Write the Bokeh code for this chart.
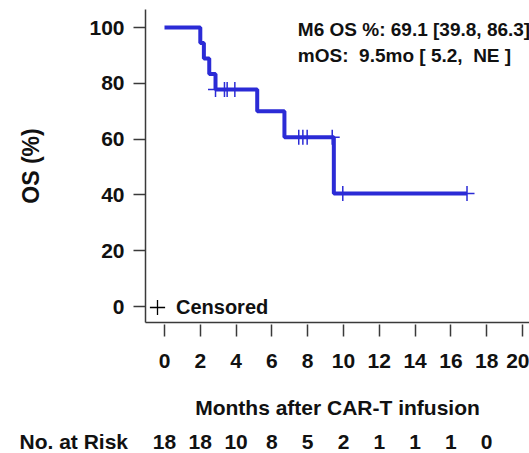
from bokeh.plotting import figure
from bokeh.models import (Range1d, FixedTicker, Label, Legend, LegendItem)
from bokeh.core.properties import value
from bokeh.embed import file_html
from bokeh.resources import INLINE

# ---- data ----
months = [0, 2.0, 2.2, 2.5, 2.85, 5.18, 6.7, 9.46, 16.9]
os_pct = [100, 94.4, 88.9, 83.3, 77.8, 70.0, 60.7, 40.5, 40.5]
cens_months = [2.85, 3.35, 3.5, 3.93, 7.5, 7.73, 7.97, 9.37, 9.96, 16.9]
cens_pct = [77.8, 77.8, 77.8, 77.8, 60.7, 60.7, 60.7, 60.7, 40.5, 40.5]
x_ticks = [0, 2, 4, 6, 8, 10, 12, 14, 16, 18, 20]
y_ticks = [0, 20, 40, 60, 80, 100]
risk_months = [0, 2, 4, 6, 8, 10, 12, 14, 16, 18]
risk_counts = [18, 18, 10, 8, 5, 2, 1, 1, 1, 0]
m6_text = "M6 OS %: 69.1 [39.8, 86.3]"
mos_text = "mOS:\u00a0 9.5mo [ 5.2,\u00a0 NE ]"

FONT = "Liberation Sans"
BLUE = "#2b2bd6"
AXC = "#3a3a3a"
TXT = "#111111"

# ---- layout constants (pixels) ----
W, H = 529, 453
PX_X, X_ORIGIN = 17.9, 164      # px per month, px of month 0
PX_Y, Y_ORIGIN = 2.79, 306      # px per %, px of 0 %
AX_LEFT_PX, AX_TOP_PX, AX_BOTTOM_PX = 145, 9, 322

def xdata(px):
    return (px - X_ORIGIN) / PX_X

def ydata(px):
    return (Y_ORIGIN - px) / PX_Y

p = figure(width=W, height=H, output_backend="svg", toolbar_location=None,
           x_range=Range1d(xdata(0), xdata(W)), y_range=Range1d(ydata(H), ydata(0)),
           min_border_left=0, min_border_right=0, min_border_top=0, min_border_bottom=0)
p.grid.visible = False
p.outline_line_color = None

p.step(months, os_pct, mode="after", line_width=4, line_color=BLUE)
p.scatter(cens_months, cens_pct, marker="cross", size=15, line_color=BLUE, line_width=1.5)

legend_marker = p.scatter(x=[float("nan")], y=[float("nan")], marker="cross",
                          line_color="black", line_width=1.3)
GLY = 38
leg = Legend(items=[LegendItem(label="Censored", renderers=[legend_marker])],
             location=(157 - GLY // 2, H - 307 - GLY // 2), glyph_width=GLY, glyph_height=GLY,
             padding=0, margin=0, border_line_color=None, background_fill_alpha=0,
             label_text_font=FONT, label_text_font_size="20px",
             label_text_font_style="bold", label_text_color=TXT, label_standoff=0)
p.add_layout(leg, "center")

# y axis, drawn at the plot-area's left edge
ya = p.yaxis[0]
ya.fixed_location = xdata(AX_LEFT_PX)
ya.bounds = (ydata(AX_BOTTOM_PX), ydata(AX_TOP_PX))
ya.ticker = FixedTicker(ticks=y_ticks)
ya.axis_label = "OS (%)"
ya.axis_label_text_font = FONT
ya.axis_label_text_font_size = "23px"
ya.axis_label_text_font_style = "bold"
ya.axis_label_text_color = TXT
ya.axis_label_standoff = 42
ya.major_label_text_font = FONT
ya.major_label_text_font_size = "21px"
ya.major_label_text_font_style = "bold"
ya.major_label_text_color = TXT
ya.major_label_standoff = 9
ya.major_tick_out = 12
ya.major_tick_in = 0
ya.minor_tick_line_color = None
ya.axis_line_color = AXC
ya.axis_line_width = 1.5
ya.major_tick_line_color = AXC
ya.major_tick_line_width = 1.5

# x axis, drawn at the plot-area's bottom edge
xa = p.xaxis[0]
xa.fixed_location = ydata(AX_BOTTOM_PX)
xa.bounds = (xdata(AX_LEFT_PX), xdata(W))
xa.ticker = FixedTicker(ticks=x_ticks)
xa.axis_label = "Months after CAR-T infusion"
xa.axis_label_text_font = FONT
xa.axis_label_text_font_size = "21px"
xa.axis_label_text_font_style = "bold"
xa.axis_label_text_color = TXT
xa.axis_label_standoff = 25
xa.major_label_text_font = FONT
xa.major_label_text_font_size = "21px"
xa.major_label_text_font_style = "bold"
xa.major_label_text_color = TXT
xa.major_label_standoff = 17
xa.major_tick_in = -2
xa.major_tick_out = 14
xa.minor_tick_line_color = None
xa.axis_line_color = AXC
xa.axis_line_width = 1.5
xa.major_tick_line_color = AXC
xa.major_tick_line_width = 1.5

p.add_layout(Label(x=7.45, y=99.3, text=m6_text, text_font=FONT, text_font_size="19px",
                   text_font_style="bold", text_color=TXT, text_baseline="middle"))
p.add_layout(Label(x=7.45, y=90.0, text=mos_text, text_font=FONT, text_font_size="19px",
                   text_font_style="bold", text_color=TXT, text_baseline="middle"))

# number-at-risk row
risk_row_y = ydata(441)
p.text(x=risk_months, y=[risk_row_y] * len(risk_months), text=[str(c) for c in risk_counts],
       text_font=value(FONT), text_font_size="21px", text_font_style="bold",
       text_color=TXT, text_align="center", text_baseline="middle")
p.add_layout(Label(x=xdata(19), y=risk_row_y, text="No. at Risk", text_font=FONT,
                   text_font_size="21px", text_font_style="bold", text_color=TXT,
                   text_align="left", text_baseline="middle"))

open("out.html", "w").write(file_html(p, INLINE))
